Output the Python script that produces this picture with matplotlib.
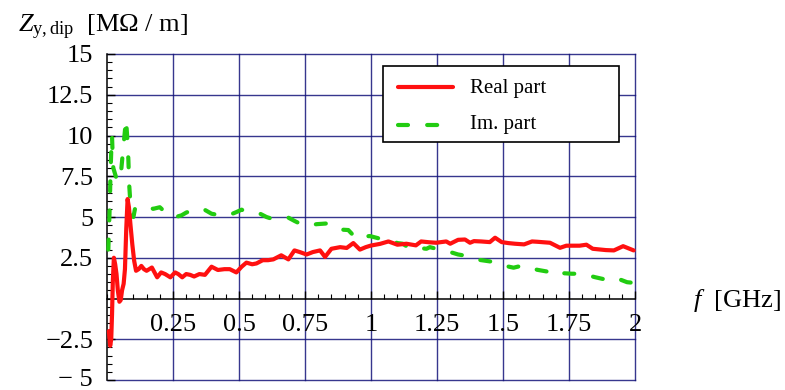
import numpy as np
import matplotlib
matplotlib.use("Agg")
import matplotlib.pyplot as plt
from matplotlib.patches import Rectangle
from matplotlib.lines import Line2D
from matplotlib.ticker import MultipleLocator, FixedLocator
from matplotlib.transforms import ScaledTranslation

plt.rcParams["font.family"] = ["Liberation Serif", "DejaVu Serif"]
plt.rcParams["mathtext.fontset"] = "custom"
plt.rcParams["mathtext.rm"] = "Liberation Serif"
plt.rcParams["mathtext.it"] = "Liberation Serif:italic"

# Dipolar vertical impedance vs frequency
real_f = [0.007, 0.012, 0.016, 0.019, 0.022, 0.026, 0.031, 0.036, 0.041, 0.047,
          0.052, 0.057, 0.063, 0.068, 0.073, 0.078, 0.083, 0.089, 0.096, 0.103,
          0.110, 0.120, 0.130, 0.140, 0.150, 0.160, 0.170, 0.180, 0.190, 0.205,
          0.220, 0.240, 0.258, 0.270, 0.285, 0.300, 0.315, 0.330, 0.350, 0.371,
          0.396, 0.420, 0.445, 0.465, 0.490, 0.510, 0.528, 0.550, 0.566, 0.590,
          0.610, 0.630, 0.660, 0.687, 0.710, 0.730, 0.756, 0.780, 0.807, 0.826,
          0.850, 0.883, 0.908, 0.933, 0.958, 0.980, 1.000, 1.034, 1.066, 1.100,
          1.134, 1.170, 1.190, 1.220, 1.247, 1.285, 1.300, 1.330, 1.356, 1.375,
          1.390, 1.417, 1.450, 1.470, 1.495, 1.520, 1.545, 1.580, 1.610, 1.630,
          1.678, 1.716, 1.740, 1.790, 1.816, 1.840, 1.890, 1.920, 1.955, 1.995]
real_z = [-2.0, -2.9, -2.5, -1.0, 1.0, 2.5, 2.1, 1.5, 0.5, -0.2,
          -0.1, 0.5, 0.9, 1.8, 4.3, 6.1, 5.6, 4.5, 3.3, 2.3,
          1.7, 1.8, 2.0, 1.8, 1.7, 1.8, 1.9, 1.6, 1.3, 1.6,
          1.5, 1.3, 1.6, 1.5, 1.3, 1.5, 1.45, 1.35, 1.5, 1.45,
          1.95, 1.75, 1.8, 1.8, 1.6, 1.95, 2.2, 2.1, 2.15, 2.35,
          2.35, 2.4, 2.65, 2.4, 2.95, 2.85, 2.7, 2.85, 2.95, 2.55,
          3.05, 3.15, 3.1, 3.4, 3.0, 3.15, 3.25, 3.35, 3.5, 3.3,
          3.36, 3.26, 3.5, 3.45, 3.42, 3.5, 3.36, 3.6, 3.62, 3.42,
          3.52, 3.5, 3.46, 3.73, 3.46, 3.4, 3.36, 3.32, 3.5, 3.48,
          3.42, 3.11, 3.24, 3.24, 3.3, 3.05, 2.97, 2.95, 3.21, 2.95]

imag_f = [0.005, 0.008, 0.011, 0.013, 0.016, 0.019, 0.021, 0.024, 0.035, 0.050,
          0.058, 0.065, 0.072, 0.077, 0.081, 0.084, 0.088, 0.093, 0.100, 0.106,
          0.118, 0.135, 0.156, 0.175, 0.200, 0.220, 0.232, 0.260, 0.282, 0.300,
          0.320, 0.340, 0.364, 0.396, 0.430, 0.460, 0.490, 0.510, 0.530, 0.554,
          0.580, 0.604, 0.623, 0.650, 0.687, 0.710, 0.730, 0.756, 0.794, 0.830,
          0.864, 0.914, 0.945, 0.970, 0.996, 1.034, 1.070, 1.100, 1.120, 1.150,
          1.180, 1.210, 1.223, 1.260, 1.290, 1.330, 1.375, 1.410, 1.440, 1.470,
          1.500, 1.540, 1.576, 1.600, 1.630, 1.665, 1.690, 1.730, 1.760, 1.800,
          1.848, 1.886, 1.920, 1.970, 1.995]
imag_z = [3.0, 4.5, 6.0, 7.5, 9.0, 10.0, 9.0, 8.0, 7.4, 7.2,
          8.6, 9.8, 11.0, 9.8, 8.5, 7.0, 6.0, 5.2, 5.0, 5.5,
          5.6, 5.7, 5.6, 5.5, 5.6, 5.3, 5.1, 5.0, 5.1, 5.27,
          5.4, 5.5, 5.5, 5.2, 5.1, 5.1, 5.3, 5.45, 5.3, 5.2,
          5.2, 5.0, 4.9, 5.0, 4.96, 4.76, 4.6, 4.46, 4.56, 4.6,
          4.25, 4.2, 3.67, 3.8, 3.83, 3.67, 3.6, 3.4, 3.36, 3.05,
          3.1, 3.05, 3.15, 3.0, 2.9, 2.7, 2.58, 2.37, 2.3, 2.23,
          2.03, 1.89, 2.03, 1.9, 1.76, 1.66, 1.41, 1.55, 1.52, 1.52,
          1.31, 1.17, 1.31, 1.0, 0.96]

x_ticks = [0.25, 0.5, 0.75, 1.0, 1.25, 1.5, 1.75, 2.0]
x_labels = ["0.25", "0.5", "0.75", "1", "1.25", "1.5", "1.75", "2"]
y_ticks = [-5, -2.5, 2.5, 5, 7.5, 10, 12.5, 15]
y_labels = ["\u2212 5", "\u22122.5", "2.5", "5", "7.5", "10", "12.5", "15"]

W, H = 785, 390
fig = plt.figure(figsize=(W / 100, H / 100), dpi=100)
ax = fig.add_axes([107 / W, 10 / H, 528 / W, 326 / H])
ax.set_xlim(0, 2)
ax.set_ylim(-5, 15)

grid_col = "#14147a"
for gx in x_ticks:
    ax.axvline(gx, color=grid_col, lw=1.0, alpha=0.85, clip_on=False, zorder=1)
for gy in y_ticks:
    ax.axhline(gy, color=grid_col, lw=1.0, alpha=0.85, clip_on=False, zorder=1)

for s in ("top", "right"):
    ax.spines[s].set_visible(False)
ax.spines["bottom"].set_position(("data", 0))
ax.spines["left"].set_linewidth(1.1)
ax.spines["bottom"].set_linewidth(1.1)

ax.xaxis.set_major_locator(FixedLocator(x_ticks))
ax.set_xticklabels(x_labels)
ax.xaxis.set_minor_locator(MultipleLocator(0.05))
ax.yaxis.set_major_locator(FixedLocator(y_ticks))
ax.set_yticklabels(y_labels)
ax.yaxis.set_minor_locator(MultipleLocator(0.5))

ax.tick_params(axis="both", which="major", direction="in", length=6, width=1.0,
               labelsize=19, color="black")
ax.tick_params(axis="both", which="minor", direction="in", length=3.5, width=0.8,
               color="black")
ax.tick_params(axis="x", which="major", pad=11)
ax.tick_params(axis="y", which="major", pad=10)

# keep the lowest y label inside the canvas
low = ax.get_yticklabels()[0]
low.set_transform(low.get_transform() + ScaledTranslation(0, 3 / 100, fig.dpi_scale_trans))

ax.plot(imag_f, imag_z, color="#22cc11", lw=3.0, dashes=(2.4, 4.6),
        dash_capstyle="round", solid_capstyle="round", zorder=3, clip_on=False)
ax.plot(real_f, real_z, color="#ff1010", lw=3.0, solid_joinstyle="round",
        solid_capstyle="round", zorder=4, clip_on=False)


def px(x, y):
    return x / W, 1 - y / H


# Axis titles
fig.text(*px(18, 32), "$Z_{\\mathrm{y,dip}}$  [M\u03a9 / m]",
         fontsize=19, ha="left", va="baseline")
fig.text(*px(693, 300), "$f$  [GHz]", fontsize=19, ha="left", va="center")

# Legend box
x0, y0 = px(383, 142)
x1, y1 = px(619, 66)
fig.add_artist(Rectangle((x0, y0), x1 - x0, y1 - y0, transform=fig.transFigure,
                         facecolor="white", edgecolor="black", lw=1.2, zorder=5))
lx0, ly_r = px(398, 87)
lx1, ly_i = px(453, 125)
fig.add_artist(Line2D([lx0, lx1], [ly_r, ly_r], transform=fig.transFigure,
                      color="#ff1010", lw=3.0, solid_capstyle="round", zorder=6))
fig.add_artist(Line2D([lx0, lx1], [ly_i, ly_i], transform=fig.transFigure,
                      color="#22cc11", lw=3.0, dashes=(2.4, 4.6),
                      dash_capstyle="round", zorder=6))
fig.text(*px(470, 88), "Real part", fontsize=15, ha="left", va="center", zorder=7)
fig.text(*px(470, 125), "Im. part", fontsize=15, ha="left", va="center", zorder=7)

fig.savefig("out.png", dpi=100)
